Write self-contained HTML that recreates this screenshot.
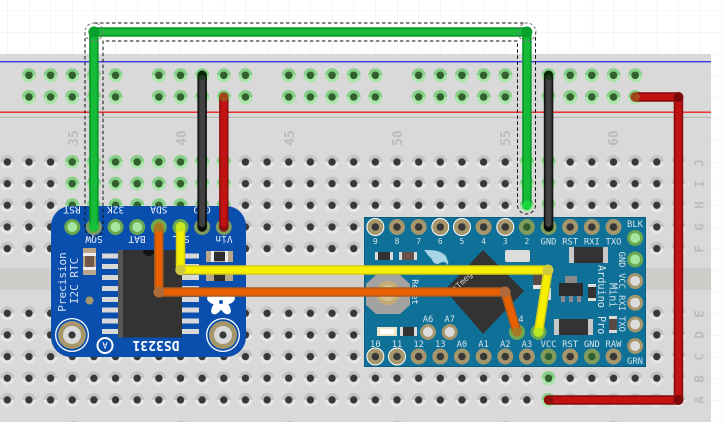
<!DOCTYPE html>
<html><head><meta charset="utf-8"><style>
html,body{margin:0;padding:0;background:#fff;width:724px;height:422px;overflow:hidden}
svg{display:block}
text{font-family:"DejaVu Sans Mono","Liberation Mono",monospace}
</style></head><body>
<svg width="724" height="422" viewBox="0 0 724 422" xmlns="http://www.w3.org/2000/svg">
<defs>
<pattern id="grid" patternUnits="userSpaceOnUse" x="7.3" y="10.5" width="21.65" height="21.65"><path d="M0 0H21.65M0 0V21.65" stroke="#e9eef4" stroke-width="1" fill="none"/></pattern>
<g id="h"><path d="M-7 0A7 7 0 0 1 7 0Z" fill="#c4c4c4"/><path d="M-7 0A7 7 0 0 0 7 0Z" fill="#e6e6e6"/><circle r="3.7" fill="#383838"/></g>
<g id="g"><path d="M-7 0A7 7 0 0 1 7 0Z" fill="#86cf86"/><path d="M-7 0A7 7 0 0 0 7 0Z" fill="#a9e6a9"/><circle r="3.8" fill="#33602f"/></g>
<pattern id="holes1" patternUnits="userSpaceOnUse" x="-3.525" y="151.175" width="21.65" height="21.65"><use href="#h" x="10.825" y="10.825"/></pattern>
<pattern id="holes2" patternUnits="userSpaceOnUse" x="-3.525" y="302.475" width="21.65" height="21.65"><use href="#h" x="10.825" y="10.825"/></pattern>
<g id="pd"><circle r="8" fill="#a5966c"/><circle r="3.8" fill="#383838"/></g>
<g id="pdw"><circle r="9" fill="#fff"/><circle r="8" fill="#a5966c"/><circle r="3.8" fill="#383838"/></g>
<g id="pl"><circle r="8" fill="#a5966c"/><circle r="5" fill="#dcdcdc"/></g>
<g id="pg"><circle r="8" fill="#6aa84f"/><circle r="5" fill="#a5e6a0"/></g>
<g id="pn"><circle r="8" fill="#7f9c5c"/><circle r="3.8" fill="#2f5f2f"/></g>
<g id="mh"><circle r="17" fill="#fff"/><circle r="15.7" fill="#0a4fae"/><circle r="14" fill="#a5966c"/><circle r="9" fill="#d8d8d8"/><circle r="3.6" fill="#383838"/></g>
</defs>
<rect width="724" height="422" fill="#fff"/>
<rect width="724" height="422" fill="url(#grid)"/>

<!-- breadboard -->
<rect x="0" y="54" width="711" height="368" fill="#d9d9d9"/>
<rect x="0" y="268" width="711" height="22" fill="#cfcdca"/>
<rect x="0" y="61" width="711" height="1.4" fill="#3a3ae8"/>
<rect x="0" y="111.5" width="711" height="1.4" fill="#f01f1f"/>
<rect x="0" y="116.8" width="711" height="1" fill="#b4b4b4"/>
<rect x="0" y="151" width="689.3" height="108.3" fill="url(#holes1)"/>
<rect x="0" y="302.5" width="689.3" height="108.3" fill="url(#holes2)"/>

<g fill="#bcbcbc" font-size="13" font-weight="bold" text-anchor="middle">
<text transform="translate(78,138) rotate(-90)">35</text>
<text transform="translate(186,138) rotate(-90)">40</text>
<text transform="translate(294,138) rotate(-90)">45</text>
<text transform="translate(402,138) rotate(-90)">50</text>
<text transform="translate(510,138) rotate(-90)">55</text>
<text transform="translate(618,138) rotate(-90)">60</text>
<text transform="translate(78,428) rotate(-90)">35</text>
<text transform="translate(186,428) rotate(-90)">40</text>
<text transform="translate(294,428) rotate(-90)">45</text>
<text transform="translate(402,428) rotate(-90)">50</text>
<text transform="translate(510,428) rotate(-90)">55</text>
<text transform="translate(618,428) rotate(-90)">60</text>
<g font-size="12.5">
<text transform="translate(703.5,163) rotate(-90)">J</text>
<text transform="translate(703.5,184) rotate(-90)">I</text>
<text transform="translate(703.5,205) rotate(-90)">H</text>
<text transform="translate(703.5,227) rotate(-90)">G</text>
<text transform="translate(703.5,249) rotate(-90)">F</text>
<text transform="translate(703.5,314) rotate(-90)">E</text>
<text transform="translate(703.5,335) rotate(-90)">D</text>
<text transform="translate(703.5,357) rotate(-90)">C</text>
<text transform="translate(703.5,379) rotate(-90)">B</text>
<text transform="translate(703.5,400) rotate(-90)">A</text>
</g></g>

<!-- rail holes -->
<g>
<use href="#g" x="28.95" y="75.3"/><use href="#g" x="50.6" y="75.3"/><use href="#g" x="72.25" y="75.3"/><use href="#g" x="93.9" y="75.3"/><use href="#g" x="115.55" y="75.3"/>
<use href="#g" x="158.85" y="75.3"/><use href="#g" x="180.5" y="75.3"/><use href="#g" x="202.15" y="75.3"/><use href="#g" x="223.8" y="75.3"/><use href="#g" x="245.45" y="75.3"/>
<use href="#g" x="288.75" y="75.3"/><use href="#g" x="310.4" y="75.3"/><use href="#g" x="332.05" y="75.3"/><use href="#g" x="353.7" y="75.3"/><use href="#g" x="375.35" y="75.3"/>
<use href="#g" x="418.65" y="75.3"/><use href="#g" x="440.3" y="75.3"/><use href="#g" x="461.95" y="75.3"/><use href="#g" x="483.6" y="75.3"/><use href="#g" x="505.25" y="75.3"/>
<use href="#g" x="548.55" y="75.3"/><use href="#g" x="570.2" y="75.3"/><use href="#g" x="591.85" y="75.3"/><use href="#g" x="613.5" y="75.3"/><use href="#g" x="635.15" y="75.3"/>
<use href="#g" x="28.95" y="97"/><use href="#g" x="50.6" y="97"/><use href="#g" x="72.25" y="97"/><use href="#g" x="93.9" y="97"/><use href="#g" x="115.55" y="97"/>
<use href="#g" x="158.85" y="97"/><use href="#g" x="180.5" y="97"/><use href="#g" x="202.15" y="97"/><use href="#g" x="223.8" y="97"/><use href="#g" x="245.45" y="97"/>
<use href="#g" x="288.75" y="97"/><use href="#g" x="310.4" y="97"/><use href="#g" x="332.05" y="97"/><use href="#g" x="353.7" y="97"/><use href="#g" x="375.35" y="97"/>
<use href="#g" x="418.65" y="97"/><use href="#g" x="440.3" y="97"/><use href="#g" x="461.95" y="97"/><use href="#g" x="483.6" y="97"/><use href="#g" x="505.25" y="97"/>
<use href="#g" x="548.55" y="97"/><use href="#g" x="570.2" y="97"/><use href="#g" x="591.85" y="97"/><use href="#g" x="613.5" y="97"/><use href="#g" x="635.15" y="97"/>
</g>
<!-- connected column holes -->
<g>
<use href="#g" x="72.25" y="162"/><use href="#g" x="93.9" y="162"/><use href="#g" x="115.55" y="162"/><use href="#g" x="137.2" y="162"/><use href="#g" x="158.85" y="162"/><use href="#g" x="180.5" y="162"/><use href="#g" x="202.15" y="162"/><use href="#g" x="223.8" y="162"/>
<use href="#g" x="72.25" y="183.65"/><use href="#g" x="93.9" y="183.65"/><use href="#g" x="115.55" y="183.65"/><use href="#g" x="137.2" y="183.65"/><use href="#g" x="158.85" y="183.65"/><use href="#g" x="180.5" y="183.65"/><use href="#g" x="202.15" y="183.65"/><use href="#g" x="223.8" y="183.65"/>
<use href="#g" x="72.25" y="205.3"/><use href="#g" x="93.9" y="205.3"/><use href="#g" x="115.55" y="205.3"/><use href="#g" x="137.2" y="205.3"/><use href="#g" x="158.85" y="205.3"/><use href="#g" x="180.5" y="205.3"/><use href="#g" x="202.15" y="205.3"/><use href="#g" x="223.8" y="205.3"/>
<use href="#g" x="526.9" y="162"/><use href="#g" x="548.55" y="162"/><use href="#g" x="526.9" y="183.65"/><use href="#g" x="548.55" y="183.65"/><use href="#g" x="526.9" y="205.3"/><use href="#g" x="548.55" y="205.3"/>
<use href="#g" x="548.55" y="378.3"/><use href="#g" x="548.55" y="400"/>
</g>

<!-- RTC board -->
<rect x="51" y="206" width="195" height="151" rx="20" fill="#0a4fae"/>
<g fill="#d8d8d8">
<rect x="102" y="253.5" width="16" height="5"/><rect x="102" y="264" width="16" height="5"/><rect x="102" y="275" width="16" height="5"/><rect x="102" y="286" width="16" height="5"/><rect x="102" y="297" width="16" height="5"/><rect x="102" y="307.5" width="16" height="5"/><rect x="102" y="318.5" width="16" height="5"/><rect x="102" y="329" width="16" height="5"/>
<rect x="182" y="253.5" width="17" height="5"/><rect x="182" y="264" width="17" height="5"/><rect x="182" y="275" width="17" height="5"/><rect x="182" y="286" width="17" height="5"/><rect x="182" y="297" width="17" height="5"/><rect x="182" y="307.5" width="17" height="5"/><rect x="182" y="318.5" width="17" height="5"/><rect x="182" y="329" width="17" height="5"/>
</g>
<rect x="118" y="250" width="64" height="87.5" fill="#333"/>
<rect x="118" y="250" width="5" height="87.5" fill="#555"/>
<path d="M143 250A6 6 0 0 0 155 250Z" fill="#111"/>
<rect x="83" y="248" width="13" height="27" fill="#b9a58a"/><rect x="83" y="253" width="13" height="3" fill="#eee"/><rect x="83" y="267" width="13" height="3" fill="#eee"/><rect x="85" y="256" width="9" height="11" fill="#74574b"/>
<rect x="206" y="251" width="27" height="11" fill="#b9a58a"/><rect x="211" y="251" width="3" height="11" fill="#eee"/><rect x="225" y="251" width="3" height="11" fill="#eee"/><rect x="214" y="252" width="11" height="9" fill="#2e2e2e"/>
<rect x="206" y="273" width="27" height="8" fill="#b9a58a"/><rect x="214" y="273" width="11" height="8" fill="#2e2e2e"/>
<circle cx="89.5" cy="300.5" r="4" fill="#a5966c"/>
<use href="#mh" x="72" y="335"/><use href="#mh" x="223" y="335"/>
<circle cx="105" cy="345.5" r="7.5" fill="#0a4fae" stroke="#fff" stroke-width="2"/>
<text transform="translate(105,345.5) rotate(180)" y="3.5" fill="#fff" font-size="9" text-anchor="middle">A</text>
<!-- flower -->
<g fill="#fff" transform="translate(221,302)">
<ellipse cx="0" cy="-7" rx="4.5" ry="7.5"/><ellipse cx="0" cy="-7" rx="4.5" ry="7.5" transform="rotate(72)"/><ellipse cx="0" cy="-7" rx="4.5" ry="7.5" transform="rotate(144)"/><ellipse cx="0" cy="-7" rx="4.5" ry="7.5" transform="rotate(216)"/><ellipse cx="0" cy="-7" rx="4.5" ry="7.5" transform="rotate(288)"/>
<circle r="2" fill="#0a4fae"/>
</g>
<g fill="#f0f4ff" font-size="9.5" text-anchor="middle">
<text transform="translate(72,206.5) rotate(180)">RST</text>
<text transform="translate(115.5,206.5) rotate(180)">32K</text>
<text transform="translate(158.8,206.5) rotate(180)">SDA</text>
<text transform="translate(202,206.5) rotate(180)">GND</text>
<text transform="translate(94,236) rotate(180)">SQW</text>
<text transform="translate(137,236) rotate(180)">BAT</text>
<text transform="translate(181,236) rotate(180)">SCL</text>
<text transform="translate(224,236) rotate(180)">Vin</text>
</g>
<text transform="translate(66,282) rotate(-90)" fill="#d8e0f0" font-size="11" text-anchor="middle">Precision</text>
<text transform="translate(78,281) rotate(-90)" fill="#d8e0f0" font-size="11" text-anchor="middle">I2C RTC</text>
<text transform="translate(156,341) rotate(180)" fill="#fff" font-size="13" font-weight="bold" text-anchor="middle">DS3231</text>
<g>
<use href="#pg" x="72.25" y="227"/><use href="#pn" x="93.9" y="227"/><use href="#pg" x="115.55" y="227"/><use href="#pg" x="137.2" y="227"/><use href="#pg" x="158.85" y="227"/><use href="#pg" x="180.5" y="227"/><use href="#pn" x="202.15" y="227"/><use href="#pn" x="223.8" y="227"/>
</g>

<!-- Arduino -->
<rect x="364" y="217" width="282" height="150" fill="#0f7098"/>
<rect x="364.5" y="217.5" width="281" height="149" fill="none" stroke="#0b5e82" stroke-width="1"/>
<!-- diamond -->
<path d="M483 250L524 291L483 334L445 290Z" fill="#333"/>
<!-- reset -->
<path d="M376 275H400L410 284V305L400 314H376L366 305V284Z" fill="#a2a2a2"/>
<circle cx="388" cy="293" r="12" fill="#c4ac77"/><circle cx="388" cy="293" r="8" fill="#d6c08e"/>
<text transform="translate(412,292) rotate(90)" fill="#e8eef2" font-size="8.5" text-anchor="middle">Reset</text>
<!-- bird -->
<path d="M424 250C433 250 440 250 446 256C447 260 449 262 448 265C444 260 442 262 438 264C434 264 433 262 431 258C428 256 426 252 424 250Z" fill="#a9d3e6"/>
<!-- small parts -->
<rect x="375" y="252" width="18" height="8" fill="#dcdcdc"/><rect x="378" y="252" width="12" height="8" fill="#333"/>
<rect x="399" y="252" width="18" height="8" fill="#dcdcdc"/><rect x="402" y="252" width="12" height="8" fill="#6b5048"/>
<rect x="505" y="250" width="25" height="12" rx="2" fill="#dcdcdc"/>
<rect x="569" y="247" width="39" height="16" fill="#c8c8c8"/><rect x="574" y="247" width="29" height="16" fill="#333"/>
<rect x="533" y="275" width="9" height="13" fill="#5a4a44"/><rect x="533" y="285" width="9" height="4" fill="#e6e6e6"/>
<rect x="548" y="288" width="3" height="12" fill="#dcdcdc"/>
<rect x="565" y="276" width="12" height="8" fill="#8a8a8a"/>
<rect x="559" y="283" width="24" height="13" fill="#2c2c2c"/>
<rect x="561" y="296" width="4" height="6" fill="#8a8a8a"/><rect x="569" y="296" width="4" height="6" fill="#8a8a8a"/><rect x="577" y="296" width="4" height="6" fill="#8a8a8a"/>
<rect x="588" y="284" width="8" height="17" fill="#dcdcdc"/><rect x="588" y="287" width="8" height="11" fill="#333"/>
<rect x="554" y="319" width="39" height="16" fill="#c8c8c8"/><rect x="559" y="319" width="29" height="16" fill="#333"/>
<rect x="609" y="316" width="8" height="17" fill="#dcdcdc"/><rect x="609" y="319" width="8" height="11" fill="#5a4a44"/>
<rect x="377" y="327" width="20" height="9" fill="#efe6c8"/><rect x="380" y="329" width="14" height="5" fill="#fff"/>
<rect x="400" y="327" width="17" height="9" fill="#dcdcdc"/><rect x="403" y="327" width="11" height="9" fill="#333"/>
<!-- Arduino pads -->
<g>
<use href="#pdw" x="375.35" y="227"/><use href="#pd" x="397" y="227"/><use href="#pd" x="418.65" y="227"/><use href="#pdw" x="440.3" y="227"/><use href="#pdw" x="461.95" y="227"/><use href="#pd" x="483.6" y="227"/><use href="#pdw" x="505.25" y="227"/><use href="#pn" x="526.9" y="227"/><use href="#pn" x="548.55" y="227"/><use href="#pd" x="570.2" y="227"/><use href="#pd" x="591.85" y="227"/><use href="#pd" x="613.5" y="227"/>
<use href="#pdw" x="375.35" y="356.5"/><use href="#pdw" x="397" y="356.5"/><use href="#pd" x="418.65" y="356.5"/><use href="#pd" x="440.3" y="356.5"/><use href="#pd" x="461.95" y="356.5"/><use href="#pd" x="483.6" y="356.5"/><use href="#pd" x="505.25" y="356.5"/><use href="#pd" x="526.9" y="356.5"/><use href="#pn" x="548.55" y="356.5"/><use href="#pd" x="570.2" y="356.5"/><use href="#pn" x="591.85" y="356.5"/><use href="#pd" x="613.5" y="356.5"/>
<use href="#pg" x="635.15" y="238"/><use href="#pg" x="635.15" y="259.5"/><use href="#pl" x="635.15" y="281"/><use href="#pl" x="635.15" y="302.7"/><use href="#pl" x="635.15" y="324.4"/><use href="#pl" x="635.15" y="346"/>
<use href="#pl" x="428" y="332"/><use href="#pl" x="449.7" y="332"/>
<use href="#pg" x="517" y="332"/><use href="#pg" x="538.5" y="332"/>
</g>
<g fill="#d6e4ea" font-size="8.8" text-anchor="middle">
<g font-size="8"><text x="375.35" y="244">9</text><text x="397" y="244">8</text><text x="418.65" y="244">7</text><text x="440.3" y="244">6</text><text x="461.95" y="244">5</text><text x="483.6" y="244">4</text><text x="505.25" y="244">3</text><text x="526.9" y="244">2</text></g>
<text x="548.5" y="244.5">GND</text><text x="570.2" y="244.5">RST</text><text x="591.85" y="244.5">RXI</text><text x="613.5" y="244.5">TXO</text>
<text x="375.35" y="347">10</text><text x="397" y="347">11</text><text x="418.65" y="347">12</text><text x="440.3" y="347">13</text><text x="461.95" y="347">A0</text><text x="483.6" y="347">A1</text><text x="505.25" y="347">A2</text><text x="526.9" y="347">A3</text><text x="548.55" y="347">VCC</text><text x="570.2" y="347">RST</text><text x="591.85" y="347">GND</text><text x="613.5" y="347">RAW</text>
<text x="428" y="322">A6</text><text x="449.7" y="322">A7</text><text x="521" y="322">4</text>
<text x="635" y="227">BLK</text><text x="635" y="364">GRN</text>
<text transform="translate(619,259.5) rotate(90)">GND</text>
<text transform="translate(619,281) rotate(90)">VCC</text>
<text transform="translate(619,303) rotate(90)">RXI</text>
<text transform="translate(619,324) rotate(90)">TXO</text>
</g>
<g fill="#d6e4ea" font-size="10.2">
<text transform="translate(598,265) rotate(90)">Arduino</text>
<text transform="translate(598,316) rotate(90)">Pro</text>
<text transform="translate(609.5,283) rotate(90)">Mini</text>
</g>
<text transform="translate(466,282) rotate(-45)" fill="#cfcfcf" font-size="8" text-anchor="middle">ATmega</text>

<!-- wires -->
<g fill="none" stroke-linejoin="round" stroke-linecap="round">
<path d="M202.15 75.3V227" stroke="#0a0a0a" stroke-width="9.5" opacity=".95"/><path d="M202.15 78V224" stroke="#414141" stroke-width="6"/>
<path d="M223.8 97V227" stroke="#8e0c0c" stroke-width="9.5" opacity=".95"/><path d="M223.8 100V224" stroke="#c21212" stroke-width="6"/>
<path d="M548.55 75.3V227" stroke="#0a0a0a" stroke-width="9.5" opacity=".95"/><path d="M548.55 78V224" stroke="#414141" stroke-width="6"/>
<path d="M635.15 97H678.45V400H548.55" stroke="#8e0c0c" stroke-width="9.5"/><path d="M638 97H678.45V400H552" stroke="#c21212" stroke-width="6"/>
<path d="M180.5 227V270H548L538.5 332" stroke="#d4cc16" stroke-width="9.5"/><path d="M180.5 227V270H548L538.5 332" stroke="#f6ef00" stroke-width="6.5"/>
<path d="M158.85 227V292H505L517 332" stroke="#a85a1c" stroke-width="9.5"/><path d="M158.85 227V292H505L517 332" stroke="#ea6000" stroke-width="6.5"/>
<path d="M93.9 227V32H526.9V205.3" stroke="#0d9a2c" stroke-width="9.5"/><path d="M93.9 227V32H526.9V205.3" stroke="#16bc38" stroke-width="6"/>
</g>
<g>
<circle cx="202.15" cy="75.3" r="4.7" fill="#0a3a0a" opacity=".6"/>
<circle cx="223.8" cy="97" r="4.7" fill="#a05a20" opacity=".75"/>
<circle cx="548.55" cy="75.3" r="4.7" fill="#0a3a0a" opacity=".6"/>
<circle cx="635.15" cy="97" r="4.7" fill="#a05a20" opacity=".75"/>
<circle cx="678.45" cy="97" r="5" fill="#7d0808"/><circle cx="678.45" cy="400" r="5" fill="#7d0808"/>
<circle cx="548.55" cy="400" r="4.7" fill="#8e0c0c"/>
<circle cx="180.5" cy="270" r="5.2" fill="#cfc940"/><circle cx="548" cy="270" r="5.5" fill="#cfc940"/>
<circle cx="158.85" cy="292" r="5.5" fill="#b06a3a"/><circle cx="505" cy="292" r="5.5" fill="#b06a3a"/>
<circle cx="93.9" cy="32" r="5.5" fill="#0aa02c"/><circle cx="526.9" cy="32" r="5.5" fill="#0aa02c"/>
<circle cx="93.9" cy="227" r="4.7" fill="#16c23a"/><circle cx="526.9" cy="205.3" r="4.7" fill="#1ad63f"/>
<circle cx="180.5" cy="227" r="4.7" fill="#c8e820"/><circle cx="538.5" cy="332" r="4.7" fill="#b8e820"/>
<circle cx="158.85" cy="227" r="4.7" fill="#a87820"/><circle cx="517" cy="332" r="4.7" fill="#a87820"/>
</g>
<!-- selection outline -->
<g fill="none" stroke="#111" stroke-width="1" stroke-dasharray="3.5 2.5">
<path d="M85 32V228A9 9 0 0 0 103 228V41H517.5V205A9 9 0 0 0 535.5 205V32"/>
<path d="M94 23H526.9"/>
</g>
<g fill="none" stroke="#777" stroke-width="1" stroke-dasharray="3 2">
<circle cx="93.9" cy="32" r="9"/><circle cx="526.9" cy="32" r="9"/>
</g>
</svg>
</body></html>
